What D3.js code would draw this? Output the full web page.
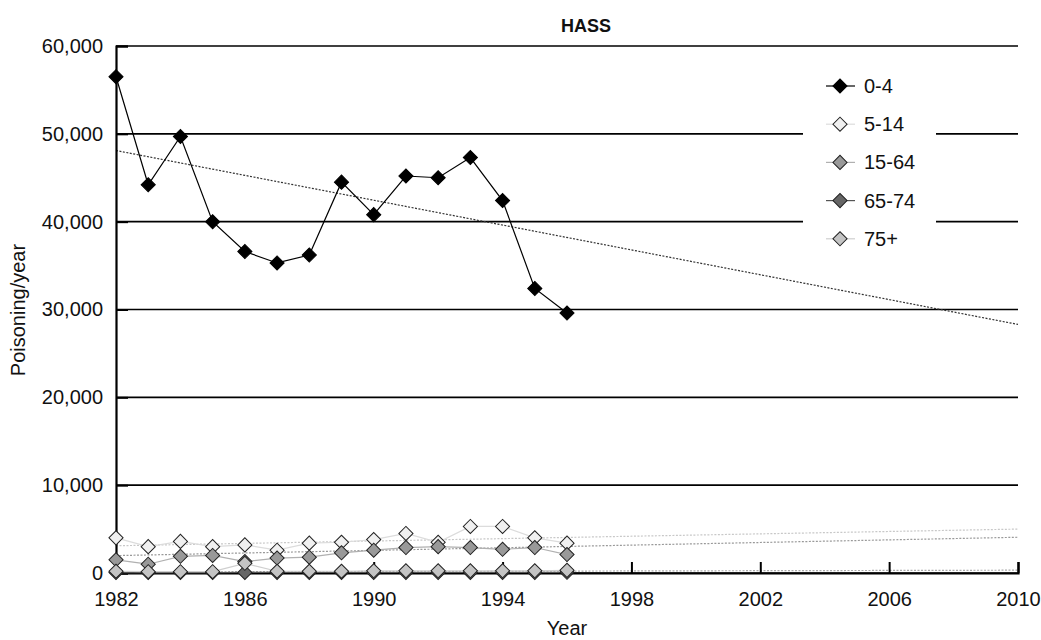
<!DOCTYPE html>
<html>
<head>
<meta charset="utf-8">
<script src="https://cdn.jsdelivr.net/npm/d3@7"></script>
<style>
  body { margin: 0; background: #fff; }
  text { font-family: "Liberation Sans", Arial, Helvetica, sans-serif; fill: #111; }
</style>
</head>
<body>
<div id="graph"></div>
<script>
// data
var years = [1982, 1983, 1984, 1985, 1986, 1987, 1988, 1989, 1990, 1991, 1992, 1993, 1994, 1995, 1996];
var age0to4   = [56500, 44200, 49700, 40000, 36600, 35300, 36200, 44500, 40800, 45200, 45000, 47300, 42400, 32400, 29600];
var age5to14  = [4000, 3000, 3600, 3000, 3200, 2600, 3400, 3500, 3800, 4500, 3500, 5300, 5300, 4000, 3400];
var age15to64 = [1500, 1000, 1900, 2000, 1300, 1700, 1800, 2300, 2600, 2900, 3000, 2900, 2700, 2900, 2100];
var age65to74 = [50, 50, 50, 50, 60, 60, 60, 60, 60, 70, 70, 70, 70, 70, 80];
var age75plus = [200, 150, 150, 150, 1100, 200, 200, 200, 250, 250, 250, 250, 250, 250, 300];
var seriesNames = ["0-4", "5-14", "15-64", "65-74", "75+"];
// dotted trend lines: value at 1982 and at 2010
var trendYears = [1982, 2010];
var trend0to4   = [48100, 28300];
var trend5to14  = [3100, 5000];
var trend15to64 = [1980, 4070];
var trendLow    = [120, 320];
var yTicks = [0, 10000, 20000, 30000, 40000, 50000, 60000];
var xTicks = [1982, 1986, 1990, 1994, 1998, 2002, 2006, 2010];

const fullwidth = 1041, fullheight = 640;
const padLeft = 116, padRight = 1018, padTop = 46, padBottom = 573;

var series = [
  {name: seriesNames[0], values: age0to4,   line: "#000",    fill: "#000",    stroke: "#000", trend: trend0to4,   tcol: "#333"},
  {name: seriesNames[1], values: age5to14,  line: "#dcdcdc", fill: "#f0f0f0", stroke: "#222", trend: trend5to14,  tcol: "#c8c8c8"},
  {name: seriesNames[2], values: age15to64, line: "#b0b0b0", fill: "#999",    stroke: "#222", trend: trend15to64, tcol: "#999"},
  {name: seriesNames[3], values: age65to74, line: "#555",    fill: "#666",    stroke: "#222", trend: null,        tcol: null},
  {name: seriesNames[4], values: age75plus, line: "#cfcfcf", fill: "#c4c4c4", stroke: "#222", trend: trendLow,    tcol: "#aaa"}
];

var xScale = d3.scaleLinear().domain([1982, 2010]).range([padLeft, padRight]);
var yScale = d3.scaleLinear().domain([0, 60000]).range([padBottom, padTop]);

var svg = d3.select("#graph").append("svg")
  .attr("width", fullwidth)
  .attr("height", fullheight);

//Gridlines
svg.append("g")
  .selectAll("line")
  .data(yTicks)
  .enter().append("line")
    .attr("x1", padLeft)
    .attr("x2", padRight)
    .attr("y1", d => yScale(d))
    .attr("y2", d => yScale(d))
    .attr("stroke", "#000")
    .attr("stroke-width", 1.6);

//Trend lines (dotted)
series.forEach(function(s) {
  if (!s.trend) return;
  svg.append("line")
    .attr("x1", xScale(trendYears[0]))
    .attr("x2", xScale(trendYears[1]))
    .attr("y1", yScale(s.trend[0]))
    .attr("y2", yScale(s.trend[1]))
    .attr("stroke", s.tcol)
    .attr("stroke-width", 1.2)
    .attr("stroke-dasharray", "2,1.5");
});

//Axes
var yAxis = d3.axisLeft(yScale)
  .tickValues(yTicks)
  .tickSize(-12)
  .tickPadding(13)
  .tickFormat(d3.format(","));
var xAxis = d3.axisBottom(xScale)
  .tickValues(xTicks)
  .tickSize(-11)
  .tickPadding(18)
  .tickFormat(d3.format("d"));

var gy = svg.append("g").attr("transform", "translate(" + padLeft + ",0)").call(yAxis);
var gx = svg.append("g").attr("transform", "translate(0," + padBottom + ")").call(xAxis);
[gy, gx].forEach(function(g) {
  g.select(".domain").attr("stroke", "#000").attr("stroke-width", 2.2);
  g.selectAll(".tick line").attr("stroke", "#000").attr("stroke-width", 2);
  g.selectAll(".tick text").style("font-size", "20px").attr("fill", "#111");
});
gx.selectAll(".tick text").attr("dy", "0.75em");

//Legend background covers the gridlines
svg.append("rect")
  .attr("x", 803).attr("y", 64)
  .attr("width", 133).attr("height", 190)
  .attr("fill", "#fff");

//Series lines and markers
var diamond = d3.symbol().type(d3.symbolSquare).size(100);
var line = d3.line()
  .x((d, i) => xScale(years[i]))
  .y(d => yScale(d));

var order = [1, 2, 3, 4, 0];
order.forEach(function(k) {
  var s = series[k];
  svg.append("path")
    .datum(s.values)
    .attr("d", line)
    .attr("fill", "none")
    .attr("stroke", s.line)
    .attr("stroke-width", 1.2);
});
order.forEach(function(k) {
  var s = series[k];
  svg.append("g")
    .selectAll("path")
    .data(s.values)
    .enter().append("path")
      .attr("d", diamond)
      .attr("transform", (d, i) => "translate(" + xScale(years[i]) + "," + yScale(d) + ") rotate(45)")
      .attr("fill", s.fill)
      .attr("stroke", s.stroke)
      .attr("stroke-width", 1);
});

//Legend
var legend = svg.selectAll(".legend")
  .data(series)
  .enter().append("g")
  .attr("class", "legend")
  .attr("transform", (d, i) => "translate(0," + (86 + i * 38.2) + ")");

legend.append("line")
  .attr("x1", 826).attr("x2", 855)
  .attr("y1", 0).attr("y2", 0)
  .attr("stroke", d => d.line)
  .attr("stroke-width", 1.2);
legend.append("path")
  .attr("d", diamond)
  .attr("transform", "translate(840,0) rotate(45)")
  .attr("fill", d => d.fill)
  .attr("stroke", d => d.stroke)
  .attr("stroke-width", 1);
legend.append("text")
  .attr("x", 864)
  .attr("y", 7)
  .style("font-size", "20px")
  .text(d => d.name);

//Title and axis labels
svg.append("text")
  .attr("x", 586).attr("y", 32)
  .attr("text-anchor", "middle")
  .style("font-size", "18px")
  .style("font-weight", "bold")
  .text("HASS");

svg.append("text")
  .attr("x", 567).attr("y", 635)
  .attr("text-anchor", "middle")
  .style("font-size", "20px")
  .text("Year");

svg.append("text")
  .attr("transform", "translate(25,310) rotate(-90)")
  .attr("text-anchor", "middle")
  .style("font-size", "20px")
  .text("Poisoning/year");
</script>
</body>
</html>
